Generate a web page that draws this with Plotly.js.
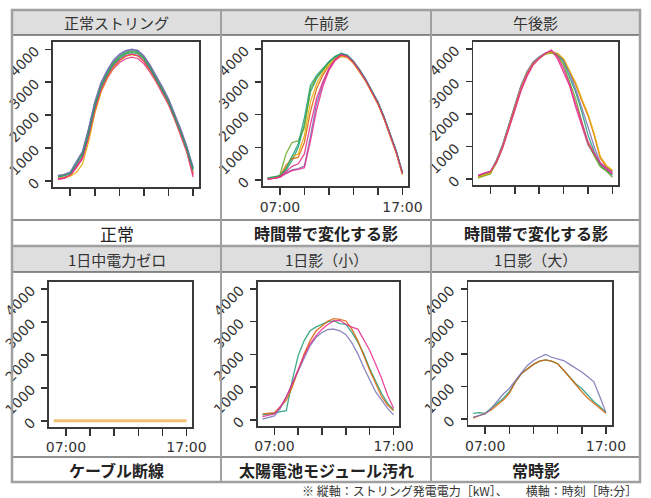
<!DOCTYPE html>
<html><head><meta charset="utf-8">
<script src="https://cdn.plot.ly/plotly-3.0.1.min.js"></script>
<style>html,body{margin:0;padding:0;background:#fff}#c{width:651px;height:498px}</style>
</head><body><div id="c"></div>
<script>
// ---- data ----
const hours = [6,6.5,7,7.5,8,8.5,9,9.5,10,10.5,11,11.5,12,12.5,13,13.5,14,14.5,15,15.5,16,16.5,17];
const headers = ["正常ストリング","午前影","午後影","1日中電力ゼロ","1日影（小）","1日影（大）"];
const labels = ["正常","時間帯で変化する影","時間帯で変化する影","ケーブル断線","太陽電池モジュール汚れ","常時影"];
const xTickVals = [7,9,11,13,15,17];
const xTickText = ["07:00","","","","","17:00"];
const yTickVals = [0,1000,2000,3000,4000];
const yTickText = ["0","1000","2000","3000","4000"];
const footnote = "※ 縦軸：ストリング発電電力［kW］、　　横軸：時刻［時:分］";

// panel 1: 正常ストリング
const normal1 = [150,180,250,560,850,1550,2350,2930,3300,3600,3790,3910,3960,3930,3760,3480,3160,2810,2450,2000,1520,1000,380];
const normal2 = [60,90,180,420,700,1350,2150,2760,3160,3460,3660,3790,3850,3810,3640,3370,3060,2710,2360,1910,1430,900,250];
const normal3 = [160,190,260,580,880,1580,2380,2960,3340,3640,3830,3950,3990,3960,3790,3510,3190,2840,2480,2030,1550,1020,400];
const normal4 = [50,80,160,400,680,1300,2100,2700,3100,3400,3590,3710,3760,3720,3560,3300,3000,2660,2310,1870,1390,860,120];
const normal5 = [140,170,240,540,830,1480,2300,2880,3250,3560,3750,3880,3930,3900,3730,3450,3130,2780,2420,1970,1490,970,350];
const normal6 = [90,110,150,260,520,1200,2050,2700,3120,3440,3650,3780,3840,3800,3630,3360,3050,2700,2350,1900,1420,890,200];
const normal7 = [170,200,270,600,900,1600,2400,2980,3360,3660,3850,3960,4000,3970,3800,3520,3200,2860,2500,2050,1570,1040,420];
const normal8 = [70,100,190,450,720,1380,2180,2780,3180,3480,3670,3800,3850,3810,3640,3380,3070,2720,2370,1930,1440,910,180];
const normal9 = [130,160,230,500,790,1450,2260,2850,3230,3530,3720,3850,3900,3870,3700,3420,3100,2750,2400,1950,1470,950,320];

// panel 2: 午前影
const am1 = [60,80,120,300,600,1000,1700,2700,3100,3350,3580,3750,3850,3800,3620,3360,3070,2720,2370,1920,1420,870,220];
const am2 = [40,60,110,450,650,700,1150,2100,2800,3200,3500,3680,3780,3760,3580,3320,3030,2680,2330,1880,1380,830,180];
const am3 = [30,50,90,220,310,350,430,1350,2350,2950,3400,3700,3880,3820,3640,3380,3090,2740,2390,1940,1440,890,230];
const am4 = [20,40,80,200,290,330,380,1200,2150,2850,3350,3650,3800,3760,3590,3330,3040,2690,2340,1890,1390,840,190];
const am5 = [50,70,150,800,1150,1200,1600,2800,3150,3380,3600,3760,3850,3790,3610,3350,3060,2710,2360,1910,1410,860,210];
const am6 = [50,70,110,380,720,800,1350,2400,2950,3280,3520,3700,3780,3750,3570,3310,3020,2670,2320,1870,1370,820,170];
const am7 = [70,90,130,350,750,1100,1900,2900,3200,3400,3620,3780,3870,3810,3630,3370,3080,2730,2380,1930,1430,880,240];
const am8 = [30,50,100,250,420,500,800,1700,2500,3000,3400,3680,3830,3780,3600,3340,3050,2700,2350,1900,1400,850,200];

// panel 3: 午後影
const pm1 = [100,180,230,500,950,1500,2100,2700,3150,3500,3700,3850,3950,3700,3300,2850,2200,1600,1050,750,450,300,150];
const pm2 = [60,120,180,560,1020,1620,2220,2820,3260,3560,3730,3850,3880,3850,3650,3250,2900,2400,1950,1350,650,380,250];
const pm3 = [80,150,200,570,1050,1650,2250,2850,3280,3580,3740,3860,3900,3820,3600,3150,2650,2050,1350,850,420,260,120];
const pm4 = [40,100,160,520,980,1580,2180,2780,3230,3540,3710,3840,3880,3800,3500,3000,2450,1750,1100,720,380,250,60];
const pm5 = [120,170,220,580,1060,1660,2260,2860,3300,3600,3760,3870,3920,3840,3650,3250,2750,2200,1600,1000,500,350,200];
const pm6 = [70,130,190,540,1000,1600,2200,2800,3250,3550,3720,3850,3900,3860,3700,3300,2950,2450,2000,1400,700,420,270];
const pm7 = [110,190,240,530,980,1560,2160,2760,3210,3530,3710,3860,3960,3760,3400,2900,2300,1700,1150,800,500,330,180];

// panel 4: 1日中電力ゼロ
const zero1 = [0,0,0,0,0,0,0,0,0,0,0,0,0,0,0,0,0,0,0,0,0,0,0];

// panel 5: 1日影（小）
const smallTeal   = [150,170,200,250,280,1210,1965,2420,2720,2840,2920,3000,3020,2940,2920,2670,2370,2015,1560,1160,805,500,300];
const smallOrange = [180,200,220,400,600,1000,1510,2015,2420,2720,2870,3020,3090,3070,3020,2770,2420,1960,1510,1110,705,450,280];
const smallPurple = [20,60,120,350,700,1110,1510,1915,2270,2520,2670,2760,2770,2720,2600,2350,2015,1600,1200,850,600,350,150];
const smallPink   = [100,140,180,400,700,1110,1560,1965,2320,2570,2770,2920,3020,3040,2920,2830,2770,2450,2120,1700,1260,750,350];

// panel 6: 1日影（大）
const largeTeal   = [180,200,180,330,485,640,840,1145,1400,1550,1680,1780,1820,1780,1700,1500,1300,1090,940,740,535,385,200];
const largeOrange = [30,100,180,280,435,590,790,1145,1400,1550,1680,1780,1820,1780,1700,1500,1275,1040,840,640,485,335,180];
const largePurple = [60,100,160,330,540,770,940,1190,1420,1650,1800,1900,1985,1900,1850,1800,1680,1560,1450,1300,1145,690,200];

const teal="#1b9e77", orange="#d95f02", purple="#7570b3", pink="#e7298a", green="#66a61e", yellow="#e6ab02";

const panels = [
  [[normal1,teal],[normal2,orange],[normal3,purple],[normal4,pink],[normal5,green],[normal6,yellow],[normal7,purple],[normal8,pink],[normal9,teal]],
  [[am1,teal],[am2,orange],[am3,purple],[am4,pink],[am5,green],[am6,yellow],[am7,teal],[am8,pink]],
  [[pm1,pink],[pm2,orange],[pm3,teal],[pm4,green],[pm5,purple],[pm6,yellow],[pm7,pink]],
  [[zero1,"#efb55c"]],
  [[smallTeal,teal],[smallOrange,orange],[smallPurple,purple],[smallPink,pink]],
  [[largeTeal,teal],[largeOrange,orange],[largePurple,purple]]
];
const showXLabels = [false,true,false,true,true,true];

// ---- layout geometry (pixels) ----
const W=651,H=498;
const px=x=>x/W, py=y=>1-y/H;
const frames = [
  [53,199,42,187],[262.7,408.3,42,186],[473.3,618.3,41.7,185],
  [49,192.3,281.7,426.7],[257.7,399.3,281.7,425.7],[468.3,611.7,281.7,425]
];
const cellX=[[12,221],[221,431],[431,640]];
const rowY=[{hd:[10,35],lb:[220,246]},{hd:[247,272],lb:[457,482]}];

const traces=[]; const layout={
  width:W,height:H,margin:{l:0,r:0,t:0,b:0},paper_bgcolor:"#fff",plot_bgcolor:"#fff",
  showlegend:false,shapes:[],annotations:[],font:{family:"DejaVu Sans",color:"#333"}
};
const tickFont={family:"DejaVu Sans",size:14,color:"#333"};
panels.forEach((series,i)=>{
  const n=i+1, xa="x"+(n>1?n:""), ya="y"+(n>1?n:"");
  series.forEach(([vals,col])=>{
    traces.push({x:hours,y:vals,type:"scatter",mode:"lines",xaxis:xa,yaxis:ya,
      line:{color:col,width:i===3?3:1.3},opacity:0.85,hoverinfo:"skip"});
  });
  const f=frames[i];
  layout["xaxis"+(n>1?n:"")]={domain:[px(f[0]),px(f[1])],anchor:ya,range:[5.6,17.48],
    tickmode:"array",tickvals:xTickVals,ticktext:showXLabels[i]?xTickText:["","","","","",""],
    ticks:"outside",ticklen:7,tickwidth:1.5,tickcolor:"#333",showgrid:false,zeroline:false,
    showline:true,mirror:true,linecolor:"#3a3a3a",linewidth:1.8,tickfont:tickFont,fixedrange:true};
  layout["yaxis"+(n>1?n:"")]={domain:[py(f[3]),py(f[2])],anchor:xa,range:[-180,4220],
    tickmode:"array",tickvals:yTickVals,ticktext:yTickText,tickangle:-45,ticklabelstandoff:7,
    ticks:"outside",ticklen:6,tickwidth:1.5,tickcolor:"#333",showgrid:false,zeroline:false,
    showline:true,mirror:true,linecolor:"#3a3a3a",linewidth:1.8,tickfont:tickFont,fixedrange:true};
});

// table shapes
const S=layout.shapes;
const rect=(x0,y0,x1,y1,fill)=>S.push({type:"rect",xref:"paper",yref:"paper",x0:px(x0),x1:px(x1),y0:py(y1),y1:py(y0),fillcolor:fill,line:{width:0},layer:"below"});
const line=(x0,y0,x1,y1,col,w)=>S.push({type:"line",xref:"paper",yref:"paper",x0:px(x0),x1:px(x1),y0:py(y0),y1:py(y1),line:{color:col,width:w}});
rowY.forEach(r=>{ rect(12,r.hd[0],640,r.hd[1],"#dedede"); line(12,r.hd[1],640,r.hd[1],"#222",1); line(12,r.lb[0],640,r.lb[0],"#222",1); });
line(12,246,640,246,"#a0a0a0",2.5);
line(221,10,221,482,"#a0a0a0",2);
line(431,10,431,482,"#a0a0a0",2);
S.push({type:"rect",xref:"paper",yref:"paper",x0:px(12),x1:px(640),y0:py(482),y1:py(10),line:{color:"#a0a0a0",width:2.5}});

const A=layout.annotations;
headers.forEach((h,i)=>{
  const c=cellX[i%3], r=rowY[Math.floor(i/3)];
  A.push({xref:"paper",yref:"paper",x:px((c[0]+c[1])/2),y:py((r.hd[0]+r.hd[1])/2),text:h,showarrow:false,
    xanchor:"center",yanchor:"middle",font:{family:"Noto Sans CJK JP",size:15,color:"#333"}});
  const bold=i>0;
  A.push({xref:"paper",yref:"paper",x:px((c[0]+c[1])/2),y:py((r.lb[0]+r.lb[1])/2),text:bold?"<b>"+labels[i]+"</b>":labels[i],showarrow:false,
    xanchor:"center",yanchor:"middle",font:{family:"Noto Sans CJK JP",size:bold?16:17,color:"#222"}});
});
A.push({xref:"paper",yref:"paper",x:px(639),y:py(490),text:footnote,showarrow:false,xanchor:"right",yanchor:"middle",
  font:{family:"Noto Sans CJK JP",size:12,color:"#333"}});

Plotly.newPlot("c",traces,layout,{staticPlot:true,displayModeBar:false});
</script></body></html>
